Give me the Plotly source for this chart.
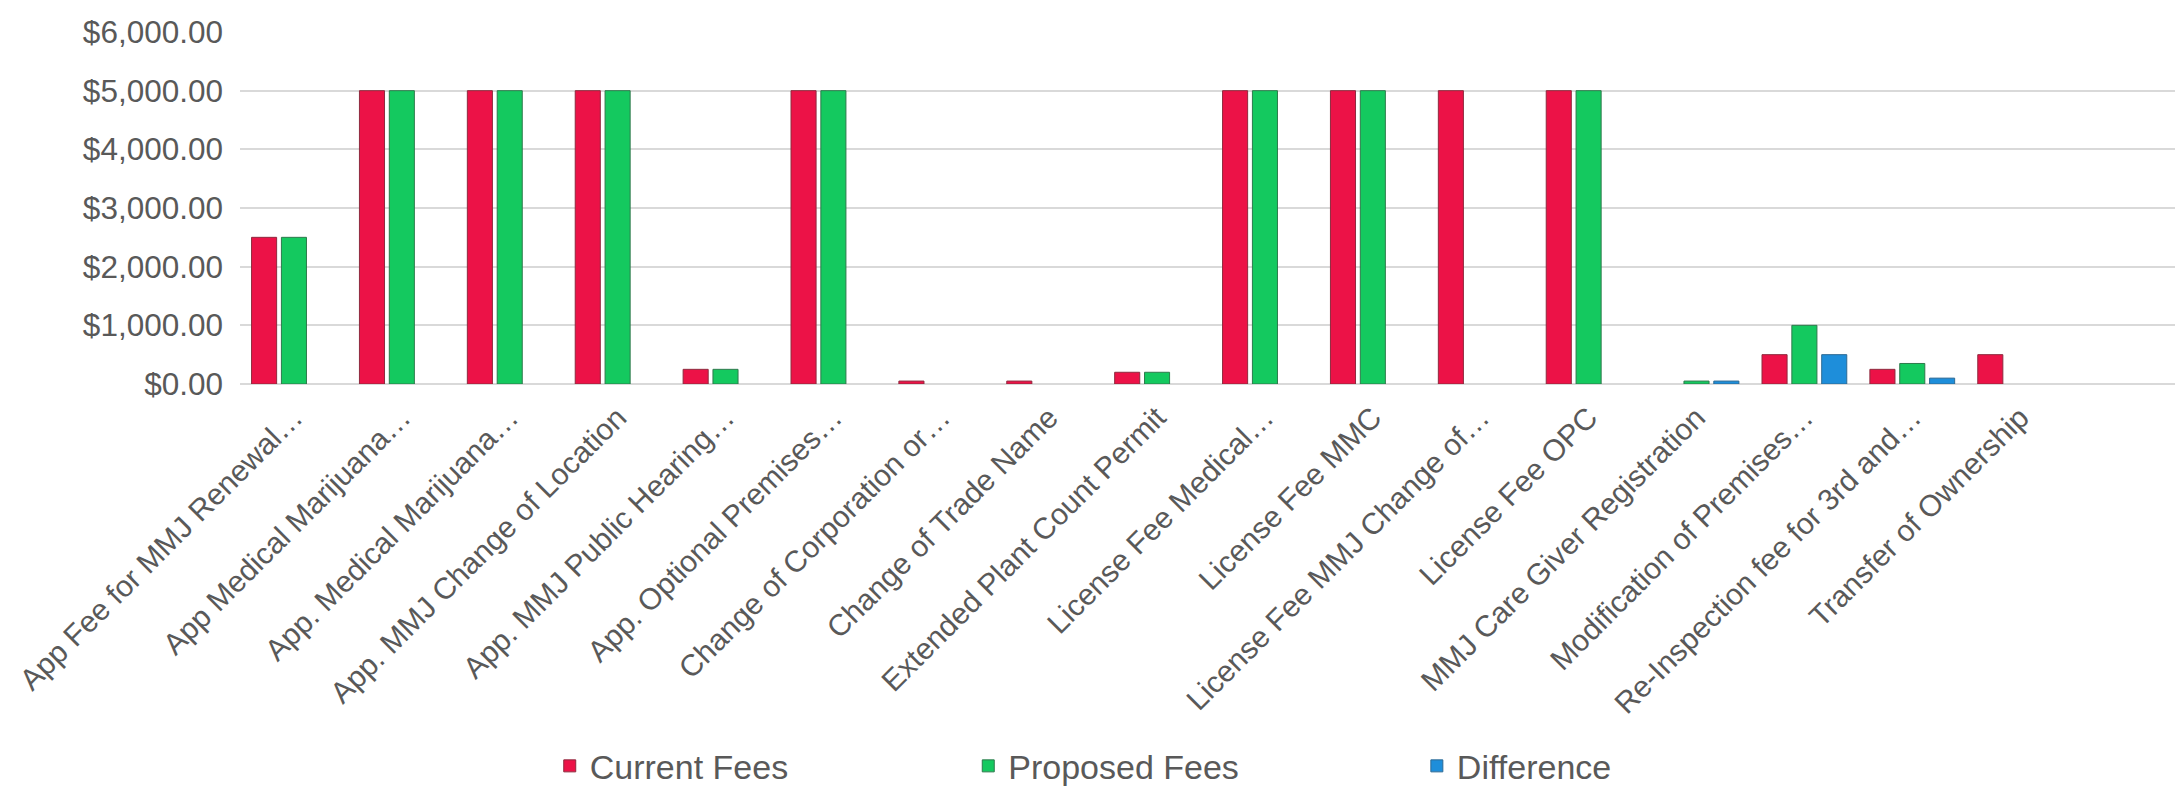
import plotly.graph_objects as go

categories = [
    "App Fee for MMJ Renewal…",
    "App Medical Marijuana…",
    "App. Medical Marijuana…",
    "App. MMJ Change of Location",
    "App. MMJ Public Hearing…",
    "App. Optional Premises…",
    "Change of Corporation or…",
    "Change of Trade Name",
    "Extended Plant Count Permit",
    "License Fee Medical…",
    "License Fee MMC",
    "License Fee MMJ Change of…",
    "License Fee OPC",
    "MMJ Care Giver Registration",
    "Modification of Premises…",
    "Re-Inspection fee for 3rd and…",
    "Transfer of Ownership",
    " ",
]

current_fees = [2500, 5000, 5000, 5000, 250, 5000, 50, 50, 200, 5000, 5000, 5000, 5000, None, 500, 250, 500, None]
proposed_fees = [2500, 5000, 5000, 5000, 250, 5000, None, None, 200, 5000, 5000, None, 5000, 50, 1000, 350, None, None]
difference = [None, None, None, None, None, None, None, None, None, None, None, None, None, 50, 500, 100, None, None]

series_names = ["Current Fees", "Proposed Fees", "Difference"]
series_values = [current_fees, proposed_fees, difference]
fill_colors = ["#EC1247", "#14C95F", "#1E8EDA"]
line_colors = ["#8E2A3E", "#2E7A4C", "#2E6A94"]
legend_ids = ["legend", "legend2", "legend3"]

fig = go.Figure()
for name, vals, fc, lc, lg in zip(series_names, series_values, fill_colors, line_colors, legend_ids):
    fig.add_trace(go.Bar(
        x=categories, y=vals, name=name,
        marker=dict(color=fc, line=dict(color=lc, width=1)),
        legend=lg,
    ))

W, H = 2183, 796
L, R, T, B = 232, 9, 24, 413
font_family = "Liberation Sans, Arial, sans-serif"
grey = "#595959"

legend_common = dict(
    orientation="h", yanchor="middle", y=-1.086, xanchor="left",
    font=dict(family=font_family, size=34, color=grey),
    bgcolor="rgba(0,0,0,0)",
)

fig.update_layout(
    width=W, height=H,
    margin=dict(l=L, r=R, t=T, b=B, pad=0),
    template="none",
    paper_bgcolor="white", plot_bgcolor="white",
    barmode="group", bargap=0.17, bargroupgap=0.16,
    font=dict(family=font_family, size=31, color=grey),
    showlegend=True,
    legend=dict(x=0.1595, **legend_common),
    legend2=dict(x=0.375, **legend_common),
    legend3=dict(x=0.606, **legend_common),
    xaxis=dict(
        type="category", tickangle=-45, automargin=False,
        showgrid=False, showline=False, ticks="", zeroline=False,
        tickfont=dict(family=font_family, size=30, color=grey),
        ticklabelstandoff=9,
    ),
    yaxis=dict(
        range=[0, 6000], dtick=1000, tickformat="$,.2f", automargin=False,
        showgrid=True, gridcolor="#D9D9D9", gridwidth=2,
        zeroline=True, zerolinecolor="#D9D9D9", zerolinewidth=2,
        showline=False, ticks="",
        tickfont=dict(family=font_family, size=31.5, color=grey),
        ticklabelstandoff=16,
    ),
)

fig.write_html("out.html")
